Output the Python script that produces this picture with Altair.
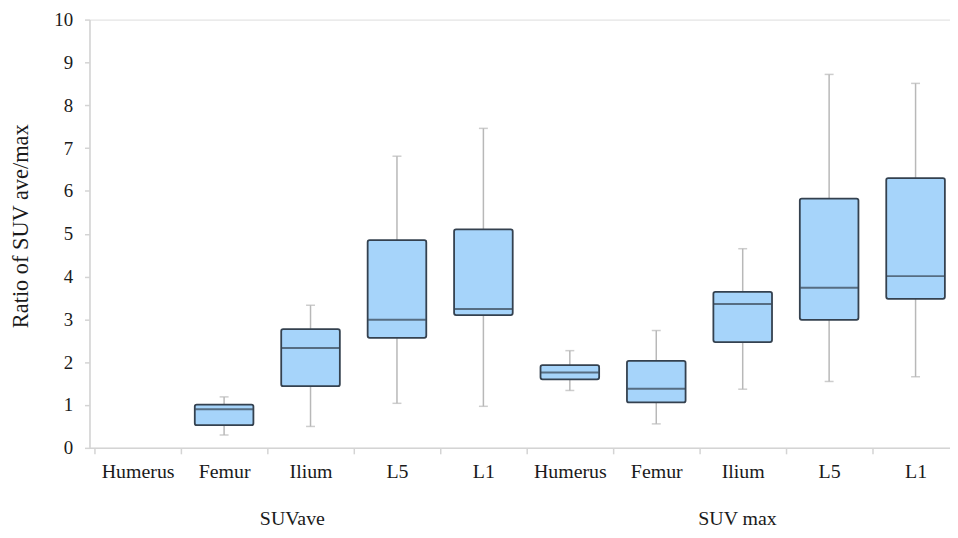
import json
import altair as alt
import pandas as pd

# ---- data ----
categories = ["Humerus", "Femur", "Ilium", "L5", "L1",
              "Humerus", "Femur", "Ilium", "L5", "L1"]
groups = ["SUVave"] * 5 + ["SUV max"] * 5
whisker_low = [None, 0.30, 0.50, 1.04, 0.97, 1.34, 0.56, 1.37, 1.55, 1.66]
q1 = [None, 0.53, 1.44, 2.57, 3.10, 1.60, 1.06, 2.47, 2.99, 3.48]
median = [None, 0.90, 2.33, 2.99, 3.24, 1.76, 1.38, 3.36, 3.74, 4.01]
q3 = [None, 1.01, 2.77, 4.85, 5.10, 1.93, 2.03, 3.64, 5.82, 6.30]
whisker_high = [None, 1.19, 3.33, 6.81, 7.46, 2.27, 2.74, 4.65, 8.72, 8.51]
group_labels = ["SUVave", "SUV max"]
group_label_pos = [2.29, 7.44]
y_ticks = list(range(0, 11))

# ---- layout / style ----
W, H = 866, 431
UNIT = 88.0
FONT = "Times New Roman, Liberation Serif, DejaVu Serif, serif"
BOX_FILL = "#a6d4fa"
BOX_STROKE = "#34414f"
WHISKER = "#b8b8b8"
AXIS_GRAY = "#d4d4d4"

rows = []
for i, c in enumerate(categories):
    if median[i] is None:
        continue
    rows.append(dict(pos=i + 0.5, cat=c, group=groups[i], lo=whisker_low[i],
                     q1=q1[i], med=median[i], q3=q3[i], hi=whisker_high[i]))
df = pd.DataFrame(rows)
glab = pd.DataFrame({"label": group_labels, "pos": group_label_pos})

x_values = [k * 0.5 for k in range(0, 20)]
label_expr = ("datum.value % 1 == 0 ? '' : " + json.dumps(categories)
              + "[floor(datum.value)]")

xscale = alt.Scale(domain=[0, W / UNIT], nice=False, zero=False)
yscale = alt.Scale(domain=[0, 10], nice=False)

x_axis = alt.Axis(values=x_values, labelExpr=label_expr, title=None,
                  grid=False, domainColor=AXIS_GRAY, domainWidth=1.5,
                  tickColor=AXIS_GRAY, tickWidth=1.5, tickSize=6,
                  tickOpacity={"condition": {"test": "datum.value % 1 != 0", "value": 0}, "value": 1},
                  labelFont=FONT, labelFontSize=20, labelColor="#1a1a1a",
                  labelPadding=8, labelOverlap=False, labelFlush=False,
                  labelBound=False)
y_axis = alt.Axis(values=y_ticks, title="Ratio of SUV ave/max", grid=False,
                  domainColor=AXIS_GRAY, domainWidth=1.5, tickColor=AXIS_GRAY,
                  tickWidth=1.5, tickSize=5, labelFont=FONT, labelFontSize=19,
                  labelColor="#1a1a1a", labelPadding=12,
                  titleFont=FONT, titleFontSize=22.5, titleFontWeight="normal",
                  titleColor="#1a1a1a", titleAngle=270, titleX=-69,
                  titleY=H / 2 - 8, titleAlign="center", titleBaseline="middle")

base = alt.Chart(df)

whisk_lo = base.mark_rule(color=WHISKER, strokeWidth=1.5).encode(
    x=alt.X("pos:Q", scale=xscale, axis=x_axis),
    y=alt.Y("lo:Q", scale=yscale, axis=y_axis),
    y2="q1:Q")
whisk_hi = base.mark_rule(color=WHISKER, strokeWidth=1.5).encode(
    x="pos:Q", y="q3:Q", y2="hi:Q")
cap_lo = base.mark_tick(color=WHISKER, orient="horizontal", size=9,
                        thickness=1.5).encode(x="pos:Q", y="lo:Q")
cap_hi = base.mark_tick(color=WHISKER, orient="horizontal", size=9,
                        thickness=1.5).encode(x="pos:Q", y="hi:Q")
boxes = base.mark_bar(size=59, orient="vertical", fill=BOX_FILL,
                      stroke=BOX_STROKE, strokeWidth=1.8,
                      cornerRadius=2).encode(x="pos:Q", y="q1:Q", y2="q3:Q")
meds = base.mark_tick(color=BOX_STROKE, orient="horizontal", size=58,
                      thickness=2).encode(x="pos:Q", y="med:Q")
gtext = alt.Chart(glab).mark_text(font=FONT, fontSize=20, color="#1a1a1a",
                                  baseline="middle", align="center").encode(
    x="pos:Q", y=alt.value(H + 72), text="label:N")

chart = alt.layer(whisk_lo, whisk_hi, cap_lo, cap_hi, boxes, meds, gtext).properties(
    width=W, height=H,
    autosize=alt.AutoSizeParams(type="none"),
    padding={"left": 82, "top": 10, "right": 0, "bottom": 80},
).configure_view(stroke=None).configure(background="white")

chart.save("out.html", embed_options={"renderer": "svg", "actions": False})
